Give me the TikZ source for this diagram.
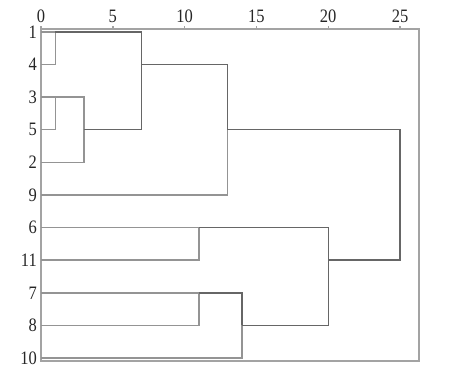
\documentclass[tikz,border=0pt]{standalone}
\usepackage{fontspec}
\setmainfont{Liberation Serif}
\usetikzlibrary{positioning}

\definecolor{leafgray}{gray}{0.58}
\definecolor{linkgray}{gray}{0.4}
\definecolor{framegray}{gray}{0.64}

\newcommand{\tallnum}[1]{\scalebox{1}[1.15]{#1}}

\tikzset{
  leaf/.style={draw=leafgray, line width=1.4pt},
  link/.style={draw=linkgray, line width=1.4pt},
  frame/.style={draw=framegray, line width=1.4pt},
  rowlab/.style={font=\fontsize{16.5}{16.5}\selectfont, text=black!85, inner sep=0pt},
  ticklab/.style={font=\fontsize{16.5}{16.5}\selectfont, text=black!85, inner sep=0pt}
}

\begin{document}
\begin{tikzpicture}
\useasboundingbox (0,0) rectangle (450pt,-382pt);

\begin{scope}[shift={(41pt,-32pt)}, x=14.36pt, y=-32.6pt]

  % frame and scale
  \draw[frame] (0,-0.09) rectangle (26.32,10.09);
  \foreach \t in {0,5,...,25} {
    \draw[frame] (\t,-0.09) -- ++(0,3pt);
    \node[ticklab] (t\t) at (\t,-0.47) {\tallnum{\t}};
  }

  % leaves
  \foreach \r/\lab in {0/1,1/4,2/3,3/5,4/2,5/9,6/6,7/11,8/7,9/8,10/10} {
    \coordinate (l\lab) at (0,\r);
    \node[rowlab, left=4pt of l\lab] (n\lab) {\tallnum{\lab}};
  }

  % merge points
  \coordinate (k14) at (1,0);
  \coordinate (k35) at (1,2);
  \coordinate (k352) at (3,3);
  \coordinate (k1) at (7,1);
  \coordinate (k19) at (13,3);
  \coordinate (k611) at (11,6);
  \coordinate (k78) at (11,8);
  \coordinate (k710) at (14,9);
  \coordinate (k6) at (20,7);
  \coordinate (kall) at (25,5);

  % upper group
  \draw[leaf] (l1) -- (k14);
  \draw[leaf] (l4) -| (k14);
  \draw[leaf] (l3) -- (k35);
  \draw[leaf] (l5) -| (k35);
  \draw[leaf] (k35) -| (k352);
  \draw[leaf] (l2) -| (k352);
  \draw[link] (k14) -| (k1);
  \draw[link] (k352) -| (k1);
  \draw[link] (k1) -| (k19);
  \draw[leaf] (l9) -| (k19);

  % lower group
  \draw[leaf] (l6) -- (k611);
  \draw[leaf] (l11) -| (k611);
  \draw[leaf] (l7) -- (k78);
  \draw[leaf] (l8) -| (k78);
  \draw[link] (k78) -| (k710);
  \draw[leaf] (l10) -| (k710);
  \draw[link] (k611) -| (k6);
  \draw[link] (k710) -| (k6);

  % last join
  \draw[link] (k19) -| (kall);
  \draw[link] (k6) -| (kall);

\end{scope}
\end{tikzpicture}
\end{document}
